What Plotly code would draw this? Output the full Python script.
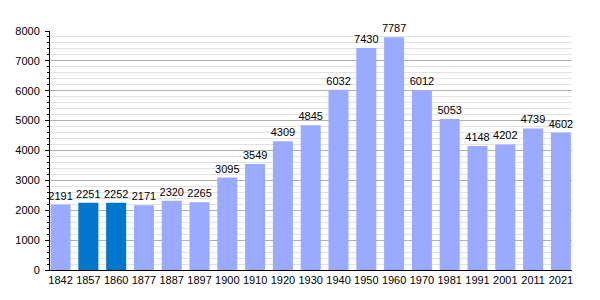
import plotly.graph_objects as go

years = ["1842","1857","1860","1877","1887","1897","1900","1910","1920","1930","1940","1950","1960","1970","1981","1991","2001","2011","2021"]
population = [2191,2251,2252,2171,2320,2265,3095,3549,4309,4845,6032,7430,7787,6012,5053,4148,4202,4739,4602]
highlight = ["1857","1860"]

light = "#99aaff"
dark = "#0077cc"
colors = [dark if y in highlight else light for y in years]

fig = go.Figure(go.Bar(
    x=years, y=population, marker=dict(color=colors, line=dict(width=0)),
    text=[str(v) for v in population], textposition="outside",
    textfont=dict(size=11, color="black", family="Liberation Sans, Arial"),
    cliponaxis=False, constraintext="none",
))
fig.update_layout(
    width=600, height=300, margin=dict(l=50, r=28, t=31, b=30),
    plot_bgcolor="white", paper_bgcolor="white",
    bargap=0.28, showlegend=False,
    font=dict(family="Liberation Sans, Arial", size=11, color="black"),
    uniformtext=dict(mode=False),
)
fig.update_xaxes(type="category", range=[-0.38, 18.4], showline=True, linecolor="black", linewidth=1,
                 ticks="", tickangle=0, automargin=False, tickfont=dict(size=11), showgrid=False)
fig.update_yaxes(range=[0, 8000], dtick=1000, showline=True, linecolor="black", linewidth=1,
                 ticks="outside", ticklen=4, tickcolor="black", ticklabelstandoff=3, automargin=False,
                 gridcolor="#b0b0b0", gridwidth=1, zeroline=False,
                 tickfont=dict(size=11),
                 minor=dict(dtick=200, showgrid=True, gridcolor="#e2e2e2", ticks="outside", ticklen=2, tickcolor="black"))
fig.write_html("out.html")
